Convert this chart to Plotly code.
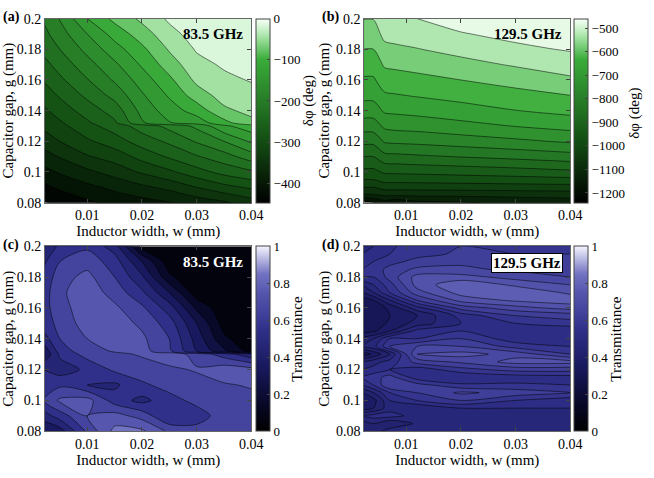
import plotly.graph_objects as go

FONT = "Liberation Serif"

# 83.5 GHz grid, shared by panels (a) and (c)
w_835 = [0.002, 0.005, 0.01, 0.015, 0.02, 0.025, 0.03, 0.035, 0.04]
g_835 = [0.08, 0.09, 0.10, 0.11, 0.12, 0.13, 0.132, 0.14, 0.15, 0.16, 0.17, 0.18, 0.19, 0.20]

# (a) phase shift, deg (rows = g, cols = w)
phase_835 = [
    [-452, -447, -426, -410, -402, -392, -378, -365, -345],
    [-428, -414, -398, -383, -367, -352, -330, -310, -295],
    [-400, -387, -367, -348, -326, -306, -282, -260, -245],
    [-373, -358, -333, -317, -290, -266, -243, -223, -195],
    [-347, -330, -305, -284, -256, -234, -207, -180, -145],
    [-324, -309, -280, -256, -226, -201, -173, -126, -102],
    [-321, -304, -275, -245, -184, -152, -137, -100, -68],
    [-306, -287, -256, -227, -170, -135, -107, -66, -52],
    [-287, -266, -233, -200, -154, -116, -75, -48, -40],
    [-268, -246, -212, -176, -136, -97, -53, -37, -28],
    [-250, -228, -192, -156, -116, -75, -40, -26, -20],
    [-233, -210, -171, -133, -97, -57, -27, -17, -13],
    [-219, -193, -150, -108, -75, -40, -17, -9, -6],
    [-207, -178, -120, -82, -53, -25, -8, -3, 0],
]

# (c) transmittance
trans_835 = [
    [0.30, 0.35, 0.62, 0.83, 0.82, 0.68, 0.64, 0.64, 0.64],
    [0.45, 0.55, 0.70, 0.74, 0.66, 0.50, 0.55, 0.65, 0.66],
    [0.60, 0.72, 0.74, 0.55, 0.47, 0.56, 0.63, 0.66, 0.67],
    [0.58, 0.58, 0.50, 0.48, 0.58, 0.64, 0.66, 0.69, 0.71],
    [0.50, 0.45, 0.52, 0.62, 0.66, 0.68, 0.71, 0.76, 0.74],
    [0.30, 0.52, 0.64, 0.68, 0.71, 0.76, 0.66, 0.55, 0.42],
    [0.32, 0.55, 0.66, 0.71, 0.74, 0.62, 0.40, 0.22, 0.06],
    [0.45, 0.60, 0.70, 0.76, 0.72, 0.60, 0.36, 0.12, 0.03],
    [0.55, 0.63, 0.75, 0.75, 0.68, 0.55, 0.30, 0.06, 0.02],
    [0.56, 0.66, 0.76, 0.72, 0.62, 0.45, 0.18, 0.03, 0.02],
    [0.55, 0.68, 0.76, 0.66, 0.52, 0.30, 0.04, 0.02, 0.02],
    [0.52, 0.66, 0.73, 0.60, 0.42, 0.12, 0.02, 0.02, 0.02],
    [0.48, 0.60, 0.66, 0.55, 0.30, 0.04, 0.02, 0.02, 0.02],
    [0.42, 0.52, 0.58, 0.45, 0.06, 0.02, 0.02, 0.02, 0.02],
]

# (b) phase shift at 129.5 GHz
w_b = [0.002, 0.004, 0.006, 0.008, 0.012, 0.02, 0.03, 0.04]
g_b = [0.08, 0.085, 0.09, 0.095, 0.10, 0.11, 0.12, 0.13, 0.14, 0.15, 0.16, 0.17, 0.18, 0.19, 0.20]
phase_b = [
    [-1235, -1205, -1175, -1195, -1165, -1155, -1140, -1130],
    [-1106, -1106, -1093, -1092, -1090, -1088, -1084, -1081],
    [-1050, -1050, -1030, -1030, -1029, -1027, -1024, -1021],
    [-1000, -1000, -983, -982, -981, -976, -971, -965],
    [-964, -964, -943, -941, -938, -932, -923, -911],
    [-900, -900, -867, -864, -858, -848, -836, -822],
    [-836, -836, -794, -790, -786, -775, -760, -743],
    [-775, -775, -740, -734, -730, -716, -698, -682],
    [-725, -725, -693, -690, -684, -670, -651, -636],
    [-685, -685, -657, -653, -646, -633, -617, -600],
    [-656, -656, -625, -621, -614, -600, -581, -559],
    [-628, -628, -594, -590, -583, -566, -545, -525],
    [-600, -600, -565, -560, -552, -534, -510, -496],
    [-574, -574, -536, -531, -525, -503, -487, -482],
    [-548, -548, -520, -512, -500, -480, -474, -470],
]

# (d) transmittance at 129.5 GHz
w_d = [0.002, 0.004, 0.007, 0.012, 0.02, 0.03, 0.04]
g_d = [0.080, 0.085, 0.090, 0.095, 0.100, 0.105, 0.110, 0.115, 0.120, 0.125,
       0.130, 0.135, 0.140, 0.145, 0.150, 0.155, 0.160, 0.165, 0.170, 0.175,
       0.180, 0.185, 0.190, 0.195, 0.200]
trans_d = [
    [0.40, 0.42, 0.48, 0.50, 0.48, 0.47, 0.46],
    [0.42, 0.45, 0.40, 0.46, 0.50, 0.48, 0.47],
    [0.50, 0.52, 0.52, 0.48, 0.47, 0.49, 0.48],
    [0.38, 0.40, 0.48, 0.45, 0.50, 0.50, 0.50],
    [0.35, 0.38, 0.50, 0.55, 0.60, 0.55, 0.52],
    [0.40, 0.45, 0.55, 0.60, 0.66, 0.63, 0.60],
    [0.50, 0.55, 0.65, 0.62, 0.56, 0.56, 0.55],
    [0.55, 0.58, 0.62, 0.52, 0.50, 0.52, 0.53],
    [0.50, 0.52, 0.55, 0.52, 0.58, 0.62, 0.62],
    [0.45, 0.48, 0.52, 0.62, 0.66, 0.72, 0.72],
    [0.32, 0.36, 0.45, 0.70, 0.72, 0.68, 0.60],
    [0.45, 0.48, 0.60, 0.65, 0.65, 0.58, 0.55],
    [0.42, 0.45, 0.55, 0.55, 0.60, 0.52, 0.50],
    [0.32, 0.34, 0.40, 0.52, 0.55, 0.50, 0.50],
    [0.30, 0.32, 0.36, 0.42, 0.50, 0.55, 0.58],
    [0.30, 0.32, 0.35, 0.40, 0.52, 0.60, 0.62],
    [0.30, 0.32, 0.36, 0.48, 0.62, 0.68, 0.72],
    [0.32, 0.35, 0.45, 0.60, 0.72, 0.76, 0.78],
    [0.40, 0.45, 0.55, 0.68, 0.77, 0.79, 0.74],
    [0.45, 0.50, 0.58, 0.72, 0.79, 0.74, 0.70],
    [0.55, 0.55, 0.62, 0.72, 0.72, 0.68, 0.65],
    [0.55, 0.57, 0.62, 0.66, 0.66, 0.64, 0.63],
    [0.52, 0.55, 0.58, 0.62, 0.64, 0.62, 0.61],
    [0.50, 0.52, 0.55, 0.58, 0.61, 0.60, 0.60],
    [0.48, 0.50, 0.54, 0.58, 0.60, 0.60, 0.59],
]

x_ticks = [0.01, 0.02, 0.03, 0.04]
y_ticks = [0.08, 0.1, 0.12, 0.14, 0.16, 0.18, 0.2]

# colormaps (fraction of colorbar range, rgb)
GREEN = [(0.0, (0, 0, 0)), (0.35, (20, 80, 20)), (0.78, (58, 172, 58)),
         (0.88, (145, 218, 145)), (0.94, (198, 240, 198)), (1.0, (246, 255, 246))]
BLUE = [(0.0, (0, 0, 0)), (0.15, (8, 8, 40)), (0.35, (25, 25, 95)), (0.55, (48, 48, 138)),
        (0.65, (68, 68, 158)), (0.75, (86, 86, 174)), (0.85, (115, 115, 195)),
        (1.0, (245, 245, 255))]


def rgb_at(scale, p):
    p = min(max(p, 0.0), 1.0)
    for (p0, c0), (p1, c1) in zip(scale[:-1], scale[1:]):
        if p <= p1:
            t = (p - p0) / (p1 - p0)
            return "rgb(%d,%d,%d)" % tuple(round(a + t * (b - a)) for a, b in zip(c0, c1))
    return "rgb(%d,%d,%d)" % scale[-1][1]


def bar_scale(scale):
    return [[p, rgb_at(scale, p)] for p, _ in scale]


# plotly colours contour bands over [start - size/2, end + size/2]; remap so the
# band colours agree with the colorbar range
def band_scale(scale, cmin, cmax, start, end, size):
    lo, hi = start - size / 2, end + size / 2
    fs = {0.0, 1.0}
    for p, _ in scale:
        f = (cmin + p * (cmax - cmin) - lo) / (hi - lo)
        if 0 < f < 1:
            fs.add(f)
    return [[f, rgb_at(scale, (lo + f * (hi - lo) - cmin) / (cmax - cmin))] for f in sorted(fs)]


W, H = 654, 478

panels = [
    dict(x=w_835, y=g_835, z=phase_835, scale=GREEN, cmin=-447, cmax=0,
         start=-450, end=-30, size=30, cticks=[-400, -300, -200, -100, 0],
         ctitle="δφ (deg)", ct_xy=(315, 97), px=(46, 256), py=(12, 202), cbx=261,
         label="(a)", freq="83.5 GHz", fcol="black", box=False),
    dict(x=w_b, y=g_b, z=phase_b, scale=GREEN, cmin=-1241, cmax=-459,
         start=-1200, end=-500, size=50,
         cticks=[-1200, -1100, -1000, -900, -800, -700, -600, -500],
         ctitle="δφ (deg)", ct_xy=(646, 110), px=(371, 581), py=(12, 202), cbx=585,
         label="(b)", freq="129.5 GHz", fcol="black", box=False),
    dict(x=w_835, y=g_835, z=trans_835, scale=BLUE, cmin=0, cmax=1,
         start=0.1, end=0.9, size=0.1, cticks=[0, 0.2, 0.4, 0.6, 0.8, 1],
         ctitle="Transmittance", ct_xy=(303, 342), px=(46, 256), py=(247, 438), cbx=261,
         label="(c)", freq="83.5 GHz", fcol="white", box=False),
    dict(x=w_d, y=g_d, z=trans_d, scale=BLUE, cmin=0, cmax=1,
         start=0.05, end=0.95, size=0.05, cticks=[0, 0.2, 0.4, 0.6, 0.8, 1],
         ctitle="Transmittance", ct_xy=(628, 342), px=(371, 581), py=(247, 438), cbx=585,
         label="(d)", freq="129.5 GHz", fcol="black", box=True),
]

fig = go.Figure()
layout = {}
annotations = []

for i, p in enumerate(panels, start=1):
    xa = "x" if i == 1 else "x%d" % i
    ya = "y" if i == 1 else "y%d" % i
    x0, x1 = p["px"][0] / W, p["px"][1] / W
    y0, y1 = 1 - p["py"][1] / H, 1 - p["py"][0] / H

    fig.add_trace(go.Contour(
        x=p["x"], y=p["y"], z=p["z"], xaxis=xa, yaxis=ya,
        autocontour=False,
        contours=dict(start=p["start"], end=p["end"], size=p["size"],
                      coloring="fill", showlines=True),
        colorscale=band_scale(p["scale"], p["cmin"], p["cmax"], p["start"], p["end"], p["size"]),
        line=dict(color="rgba(0,0,0,0.85)", width=0.6, smoothing=0.8),
        showscale=False, hoverinfo="skip"))

    # continuous colorbar, carried by an invisible marker
    fig.add_trace(go.Scatter(
        x=[p["x"][-1]], y=[p["y"][-1]], xaxis=xa, yaxis=ya, mode="markers",
        marker=dict(size=1, opacity=0, color=[p["cmax"]], cmin=p["cmin"], cmax=p["cmax"],
                    colorscale=bar_scale(p["scale"]), showscale=True,
                    colorbar=dict(x=p["cbx"] / W, xanchor="left", y=(y0 + y1) / 2,
                                  yanchor="middle", len=y1 - y0, lenmode="fraction",
                                  thickness=14, thicknessmode="pixels", xpad=0, ypad=0,
                                  outlinewidth=1, outlinecolor="#444",
                                  tickvals=p["cticks"], ticks="inside", ticklen=3,
                                  tickcolor="#444",
                                  tickfont=dict(family=FONT, size=13, color="black"))),
        hoverinfo="skip", showlegend=False))

    layout["xaxis" if i == 1 else "xaxis%d" % i] = dict(
        domain=[x0, x1], anchor=ya, range=[0.0023, 0.04], tickvals=x_ticks,
        ticks="inside", ticklen=4, tickcolor="#444", showline=True, mirror="ticks",
        linecolor="#666", linewidth=1, showgrid=False, zeroline=False,
        tickfont=dict(family=FONT, size=14, color="black"),
        title=dict(text="Inductor width, w (mm)", standoff=0,
                   font=dict(family=FONT, size=15, color="black")))
    layout["yaxis" if i == 1 else "yaxis%d" % i] = dict(
        domain=[y0, y1], anchor=xa, range=[0.08, 0.2], tickvals=y_ticks,
        ticks="inside", ticklen=4, tickcolor="#444", showline=True, mirror="ticks",
        linecolor="#666", linewidth=1, showgrid=False, zeroline=False,
        tickfont=dict(family=FONT, size=14, color="black"),
        title=dict(text="Capacitor gap, g (mm)", standoff=2,
                   font=dict(family=FONT, size=15, color="black")))

    annotations.append(dict(
        text="<b>%s</b>" % p["freq"], xref=xa + " domain", yref=ya + " domain",
        x=0.965, y=0.965, xanchor="right", yanchor="top", showarrow=False,
        font=dict(family=FONT, size=15, color=p["fcol"]),
        bgcolor="white" if p["box"] else None,
        bordercolor="black" if p["box"] else None,
        borderwidth=1 if p["box"] else 0, borderpad=1))
    annotations.append(dict(
        text="<b>%s</b>" % p["label"], xref="paper", yref="paper",
        x=(p["px"][0] - 45) / W, y=1 - (p["py"][0] - 12) / H,
        xanchor="left", yanchor="top", showarrow=False,
        font=dict(family=FONT, size=14, color="black")))
    annotations.append(dict(
        text=p["ctitle"], xref="paper", yref="paper", textangle=-90,
        x=p["ct_xy"][0] / W, y=1 - p["ct_xy"][1] / H,
        xanchor="center", yanchor="middle", showarrow=False,
        font=dict(family=FONT, size=15, color="black")))

fig.update_layout(
    width=W, height=H, margin=dict(l=0, r=0, t=0, b=0),
    paper_bgcolor="white", plot_bgcolor="white", showlegend=False,
    annotations=annotations, **layout)

# the page body has a default 8px margin; drop it so the figure fills the window
fig.write_html("out.html", config={"displayModeBar": False},
               post_script="document.body.style.margin='0';")
